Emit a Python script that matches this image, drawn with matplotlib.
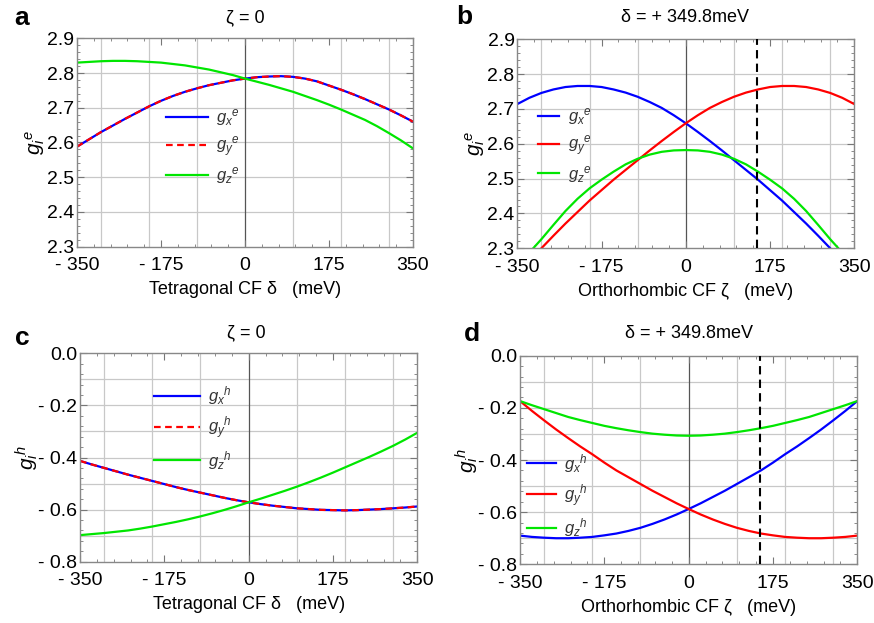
import matplotlib
matplotlib.use("Agg")
import matplotlib.pyplot as plt
import numpy as np

plt.rcParams['font.family'] = ['Liberation Sans', 'DejaVu Sans']
plt.rcParams['mathtext.fontset'] = 'custom'
plt.rcParams['mathtext.it'] = 'Liberation Sans:italic'
plt.rcParams['mathtext.rm'] = 'Liberation Sans'

# ---------------- data ----------------
# common abscissa (meV), step 25
x25 = list(range(-350, 351, 25))

# Panel a: zeta = 0, x = tetragonal CF delta (meV)
gxe_a = [2.588, 2.609, 2.630, 2.649, 2.668, 2.686, 2.704, 2.720, 2.734, 2.746, 2.756, 2.765, 2.772, 2.779, 2.784,
         2.788, 2.790, 2.791, 2.789, 2.784, 2.776, 2.764, 2.752, 2.739, 2.725, 2.710, 2.695, 2.678, 2.660]
gye_a = [2.588, 2.609, 2.630, 2.649, 2.668, 2.686, 2.704, 2.720, 2.734, 2.746, 2.756, 2.765, 2.772, 2.779, 2.784,
         2.788, 2.790, 2.791, 2.789, 2.784, 2.776, 2.764, 2.752, 2.739, 2.725, 2.710, 2.695, 2.678, 2.660]
gze_a = [2.830, 2.832, 2.834, 2.835, 2.835, 2.834, 2.832, 2.830, 2.826, 2.822, 2.816, 2.810, 2.802, 2.794, 2.784,
         2.775, 2.766, 2.756, 2.746, 2.734, 2.722, 2.709, 2.695, 2.680, 2.665, 2.647, 2.627, 2.606, 2.583]

# Panel b: delta = +349.8 meV, x = orthorhombic CF zeta (meV)
zeta_bx = list(range(-350, 301, 25))
gxe_b = [2.714, 2.732, 2.746, 2.756, 2.763, 2.766, 2.766, 2.763, 2.756, 2.747, 2.735, 2.720, 2.703, 2.682, 2.659,
         2.634, 2.608, 2.581, 2.553, 2.525, 2.497, 2.467, 2.437, 2.404, 2.371, 2.336, 2.300]
zeta_by = list(range(-300, 351, 25))
gye_b = [2.300, 2.336, 2.371, 2.404, 2.437, 2.467, 2.497, 2.525, 2.553, 2.581, 2.608, 2.634, 2.659, 2.682, 2.703,
         2.720, 2.735, 2.747, 2.756, 2.763, 2.766, 2.766, 2.763, 2.756, 2.746, 2.732, 2.714]
zeta_bz = [-317, -300, -275, -250, -225, -200, -175, -150, -125, -100, -75, -50, -25, 0,
           25, 50, 75, 100, 125, 150, 175, 200, 225, 250, 275, 300, 317]
gze_b = [2.300, 2.326, 2.367, 2.407, 2.442, 2.472, 2.497, 2.520, 2.541, 2.557, 2.569, 2.577, 2.581, 2.582,
         2.581, 2.577, 2.569, 2.557, 2.541, 2.520, 2.497, 2.472, 2.442, 2.407, 2.367, 2.326, 2.300]

# Panel c: zeta = 0
gxh_c = [-0.413, -0.427, -0.440, -0.453, -0.466, -0.478, -0.490, -0.502, -0.514, -0.525, -0.535, -0.545, -0.555, -0.564, -0.572,
         -0.579, -0.585, -0.590, -0.595, -0.598, -0.601, -0.602, -0.603, -0.602, -0.600, -0.598, -0.595, -0.592, -0.588]
gyh_c = [-0.413, -0.427, -0.440, -0.453, -0.466, -0.478, -0.490, -0.502, -0.514, -0.525, -0.535, -0.545, -0.555, -0.564, -0.572,
         -0.579, -0.585, -0.590, -0.595, -0.598, -0.601, -0.602, -0.603, -0.602, -0.600, -0.598, -0.595, -0.592, -0.588]
gzh_c = [-0.698, -0.694, -0.690, -0.685, -0.680, -0.673, -0.665, -0.656, -0.647, -0.637, -0.626, -0.614, -0.601, -0.587, -0.572,
         -0.558, -0.543, -0.528, -0.512, -0.495, -0.477, -0.458, -0.438, -0.418, -0.398, -0.377, -0.355, -0.331, -0.305]

# Panel d: delta = +349.8 meV
gxh_d = [-0.690, -0.695, -0.698, -0.700, -0.700, -0.698, -0.695, -0.689, -0.682, -0.672, -0.660, -0.645, -0.628, -0.609, -0.588,
         -0.566, -0.542, -0.518, -0.492, -0.466, -0.440, -0.410, -0.378, -0.348, -0.316, -0.283, -0.248, -0.212, -0.174]
gyh_d = [-0.174, -0.212, -0.248, -0.283, -0.316, -0.348, -0.378, -0.410, -0.440, -0.466, -0.492, -0.518, -0.542, -0.566, -0.588,
         -0.609, -0.628, -0.645, -0.660, -0.672, -0.682, -0.689, -0.695, -0.698, -0.700, -0.700, -0.698, -0.695, -0.690]
gzh_d = [-0.174, -0.190, -0.205, -0.220, -0.235, -0.247, -0.258, -0.269, -0.278, -0.286, -0.293, -0.299, -0.303, -0.306, -0.307,
         -0.306, -0.303, -0.299, -0.293, -0.286, -0.278, -0.269, -0.258, -0.247, -0.235, -0.220, -0.205, -0.190, -0.174]

zeta_marker = 148  # dashed vertical line (meV)

x_ticks = [-350, -175, 0, 175, 350]
x_ticklabels = ['- 350', '- 175', '0', '175', '350']
grid_x = [-300, -200, -100, 100, 200, 300]
ye_ticks = [2.3, 2.4, 2.5, 2.6, 2.7, 2.8, 2.9]
ye_ticklabels = ['2.3', '2.4', '2.5', '2.6', '2.7', '2.8', '2.9']
yh_ticks = [-0.8, -0.6, -0.4, -0.2, 0.0]
yh_ticklabels = ['- 0.8', '- 0.6', '- 0.4', '- 0.2', '0.0']
yh_grid = [-0.7, -0.6, -0.5, -0.4, -0.3, -0.2, -0.1]

BLUE = '#0000ff'
RED = '#ff0000'
GREEN = '#00e600'

W, H = 874, 623
fig = plt.figure(figsize=(W / 100, H / 100), dpi=100)

def px_axes(l, t, r, b):
    return fig.add_axes([l / W, 1 - b / H, (r - l) / W, (b - t) / H])

axa = px_axes(77, 38.3, 413, 246.7)
axb = px_axes(517.3, 39.3, 854.3, 248.3)
axc = px_axes(80, 353.3, 417.3, 561.7)
axd = px_axes(520, 355.7, 857.3, 564.3)

def style(ax, yticks, yticklabels, ylim, hgrid, yminor):
    ax.set_xlim(-350, 350)
    ax.set_ylim(*ylim)
    for g in grid_x:
        ax.axvline(g, color='#c8c8c8', lw=0.9, zorder=0)
    for g in hgrid:
        ax.axhline(g, color='#c8c8c8', lw=0.9, zorder=0)
    ax.axvline(0, color='#555555', lw=0.9, zorder=1)
    ax.set_xticks(x_ticks)
    ax.set_xticklabels(x_ticklabels)
    ax.set_yticks(yticks)
    ax.set_yticklabels(yticklabels)
    ax.set_xticks(np.arange(-350, 351, 35), minor=True)
    ax.set_yticks(yminor, minor=True)
    ax.tick_params(which='both', direction='in', top=True, right=True,
                   colors='#777777', labelcolor='black', labelsize=14)
    ax.tick_params(which='major', length=5, width=0.8)
    ax.tick_params(axis='x', which='major', pad=7.5)
    ax.tick_params(axis='y', which='major', pad=2)
    ax.tick_params(which='minor', length=2.5, width=0.6)
    for s in ax.spines.values():
        s.set_color('#888888')
        s.set_linewidth(1.0)

style(axa, ye_ticks, ye_ticklabels, (2.3, 2.9), ye_ticks[1:-1], np.arange(2.3, 2.901, 0.02))
style(axb, ye_ticks, ye_ticklabels, (2.3, 2.9), ye_ticks[1:-1], np.arange(2.3, 2.901, 0.02))
style(axc, yh_ticks, yh_ticklabels, (-0.8, 0.0), yh_grid, np.arange(-0.8, 0.001, 0.04))
style(axd, yh_ticks, yh_ticklabels, (-0.8, 0.0), yh_grid, np.arange(-0.8, 0.001, 0.04))

lw = 1.6
# Panel a
axa.plot(x25, gxe_a, color=BLUE, lw=lw, label=r'$g_x{}^e$')
axa.plot(x25, gye_a, color=RED, lw=lw, ls=(0, (3, 2)), label=r'$g_y{}^e$')
axa.plot(x25, gze_a, color=GREEN, lw=lw, label=r'$g_z{}^e$')
# Panel b
axb.plot(zeta_bx, gxe_b, color=BLUE, lw=lw, label=r'$g_x{}^e$')
axb.plot(zeta_by, gye_b, color=RED, lw=lw, label=r'$g_y{}^e$')
axb.plot(zeta_bz, gze_b, color=GREEN, lw=lw, label=r'$g_z{}^e$')
axb.axvline(zeta_marker, color='black', lw=1.5, ls=(0, (4, 2.5)), zorder=3)
# Panel c
axc.plot(x25, gxh_c, color=BLUE, lw=lw, label=r'$g_x{}^h$')
axc.plot(x25, gyh_c, color=RED, lw=lw, ls=(0, (3, 2)), label=r'$g_y{}^h$')
axc.plot(x25, gzh_c, color=GREEN, lw=lw, label=r'$g_z{}^h$')
# Panel d
axd.plot(x25, gxh_d, color=BLUE, lw=lw, label=r'$g_x{}^h$')
axd.plot(x25, gyh_d, color=RED, lw=lw, label=r'$g_y{}^h$')
axd.plot(x25, gzh_d, color=GREEN, lw=lw, label=r'$g_z{}^h$')
axd.axvline(zeta_marker, color='black', lw=1.5, ls=(0, (4, 2.5)), zorder=3)

def leg(ax, x, y, hl, sp):
    l = ax.legend(loc='upper left', bbox_to_anchor=(x, y), frameon=False,
                  handlelength=hl, labelspacing=sp, fontsize=12,
                  borderpad=0, borderaxespad=0, handletextpad=0.5)
    for t in l.get_texts():
        t.set_color('#333333')

leg(axa, 0.265, 0.67, 2.5, 0.38)
leg(axb, 0.06, 0.68, 1.3, 0.36)
leg(axc, 0.22, 0.85, 2.75, 0.45)
leg(axd, 0.02, 0.54, 1.75, 0.45)

# axis labels
for ax, lab in [(axa, 'Tetragonal CF δ   (meV)'), (axc, 'Tetragonal CF δ   (meV)'),
                (axb, 'Orthorhombic CF ζ   (meV)'), (axd, 'Orthorhombic CF ζ   (meV)')]:
    ax.set_xlabel(lab, fontsize=13, labelpad=5)
axa.set_ylabel(r'$g_i{}^e$', fontsize=15, labelpad=0)
axb.set_ylabel(r'$g_i{}^e$', fontsize=15, labelpad=0)
axc.set_ylabel(r'$g_i{}^h$', fontsize=15, labelpad=-2)
axd.set_ylabel(r'$g_i{}^h$', fontsize=15, labelpad=-2)

# titles
fig.text(245 / W, 1 - 18 / H, 'ζ = 0', ha='center', va='center', fontsize=13)
fig.text(685 / W, 1 - 18 / H, 'δ = + 349.8meV', ha='center', va='center', fontsize=13)
fig.text(246 / W, 1 - 333 / H, 'ζ = 0', ha='center', va='center', fontsize=13)
fig.text(689 / W, 1 - 334 / H, 'δ = + 349.8meV', ha='center', va='center', fontsize=13)

# panel letters
for (x, y, s) in [(22, 18, 'a'), (464, 17, 'b'), (22, 338, 'c'), (472, 334, 'd')]:
    fig.text(x / W, 1 - y / H, s, ha='center', va='center', fontsize=19, fontweight='bold')

fig.savefig('out.png', dpi=100)
